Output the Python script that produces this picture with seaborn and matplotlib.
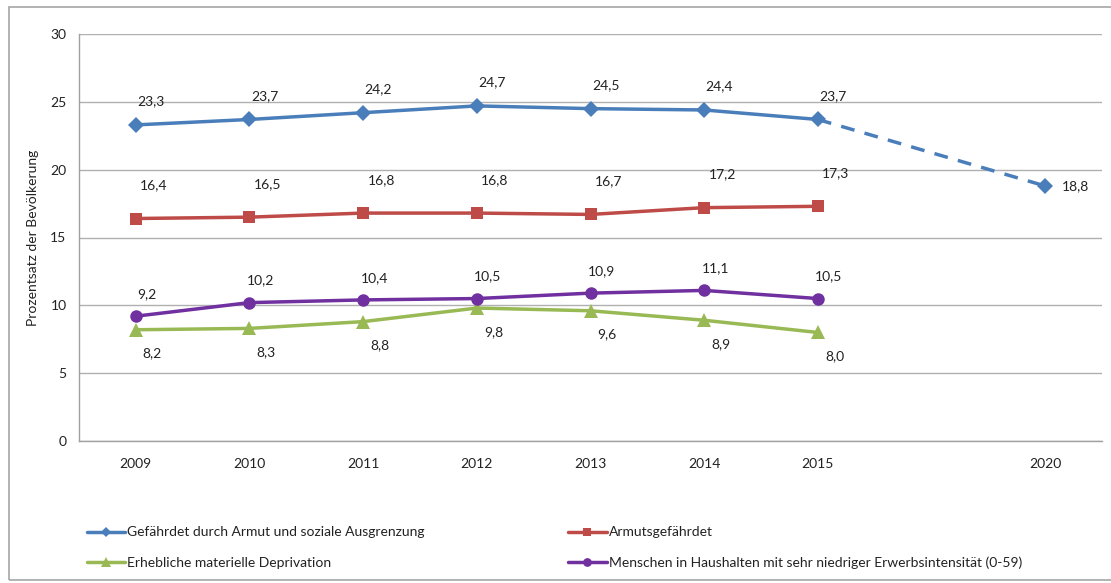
import pandas as pd
import numpy as np
import matplotlib
matplotlib.use("Agg")
import matplotlib.pyplot as plt
from matplotlib.patches import Rectangle
from matplotlib.lines import Line2D
import seaborn as sns

# categories (one empty slot between 2015 and 2020)
years = ["2009", "2010", "2011", "2012", "2013", "2014", "2015", "", "2020"]

gefaehrdet = [23.3, 23.7, 24.2, 24.7, 24.5, 24.4, 23.7, None, 18.8]
armut = [16.4, 16.5, 16.8, 16.8, 16.7, 17.2, 17.3, None, None]
deprivation = [8.2, 8.3, 8.8, 9.8, 9.6, 8.9, 8.0, None, None]
erwerb = [9.2, 10.2, 10.4, 10.5, 10.9, 11.1, 10.5, None, None]

names = ["Gefährdet durch Armut und soziale Ausgrenzung",
         "Armutsgefährdet",
         "Erhebliche materielle Deprivation",
         "Menschen in Haushalten mit sehr niedriger Erwerbsintensität (0-59)"]
colors = ["#4A7EBB", "#BE4B48", "#98B954", "#7030A0"]
markers = ["D", "s", "^", "o"]
msizes = [8, 9, 9.5, 9]
# label offsets in points (dx, dy)
offsets = [(11, 17), (13, 24), (12, -17), (8, 16)]

sns.set_style("white")
plt.rcParams['font.family'] = ['Lato', 'DejaVu Sans']

fig = plt.figure(figsize=(11.11, 5.83), dpi=100)
ax = fig.add_axes([79 / 1111, 1 - 441 / 583, (1102 - 79) / 1111, (441 - 34) / 583])

pos = np.arange(len(years))
series = [gefaehrdet, armut, deprivation, erwerb]

for name, vals, c, m, ms, (dx, dy) in zip(names, series, colors, markers, msizes, offsets):
    df = pd.DataFrame({"x": pos, "y": pd.to_numeric(pd.Series(vals), errors="coerce")})
    solid = df[df["x"] <= 6]
    sns.lineplot(data=solid, x="x", y="y", ax=ax, color=c, linewidth=2.5,
                 marker=m, markersize=ms, markeredgewidth=0, zorder=3)
    for x, y in zip(solid["x"], solid["y"]):
        ax.annotate(f"{y:.1f}".replace(".", ","), (x, y), xytext=(dx, dy),
                    textcoords="offset points", ha="center", va="center",
                    fontsize=10, color="#222222")

# projection to 2020 (dashed)
proj = pd.DataFrame({"x": [6, 8], "y": [gefaehrdet[6], gefaehrdet[8]]})
sns.lineplot(data=proj, x="x", y="y", ax=ax, color=colors[0], linewidth=2.5,
             linestyle=(0, (4, 3)), zorder=2)
ax.plot(8, gefaehrdet[8], marker="D", markersize=8, color=colors[0],
        markeredgewidth=0, zorder=3)
ax.annotate("18,8", (8, gefaehrdet[8]), xytext=(22, 0), textcoords="offset points",
            ha="center", va="center", fontsize=10, color="#222222")

ax.set_xlim(-0.5, 8.5)
ax.set_ylim(0, 30)
ax.set_yticks(range(0, 31, 5))
ax.set_xticks(np.arange(-0.5, 8.6, 1))
ax.set_xticklabels([])
ax.set_xticks(pos, minor=True)
ax.set_xticklabels(years, minor=True)
ax.tick_params(axis="x", which="major", length=5, color="#A0A0A0", direction="out")
ax.tick_params(axis="x", which="minor", length=0, pad=12, labelsize=10, labelcolor="#222222")
ax.tick_params(axis="y", length=5, color="#A0A0A0", direction="out", labelsize=10,
               labelcolor="#222222", pad=4)
ax.yaxis.grid(True, color="#B0B0B0", linewidth=1)
ax.xaxis.grid(False)
for s in ["top", "right"]:
    ax.spines[s].set_visible(False)
for s in ["left", "bottom"]:
    ax.spines[s].set_color("#A0A0A0")
    ax.spines[s].set_linewidth(1)
ax.set_xlabel("")
ax.set_ylabel("Prozentsatz der Bevölkerung", fontsize=10, color="#222222", labelpad=8)

# legend: column-wise order
handles = [Line2D([], [], color=c, marker=m, markersize=ms * 0.7, linewidth=2.5,
                  markeredgewidth=0) for c, m, ms in zip(colors, markers, msizes)]
order = [0, 2, 1, 3]
fig.legend([handles[i] for i in order], [names[i] for i in order],
           loc="upper left", bbox_to_anchor=(74 / 1111, 1 - 514 / 583), ncol=2,
           frameon=False, fontsize=10, handlelength=2.8, handletextpad=0.15,
           columnspacing=10.3, labelspacing=1.3, labelcolor="#222222")

# outer chart border
fig.patches.append(Rectangle((9 / 1111, 1 - 580 / 583), 1.1, (580 - 7) / 583,
                             transform=fig.transFigure, fill=False,
                             edgecolor="#A6A6A6", linewidth=1.2))

fig.savefig("out.png", dpi=100)
